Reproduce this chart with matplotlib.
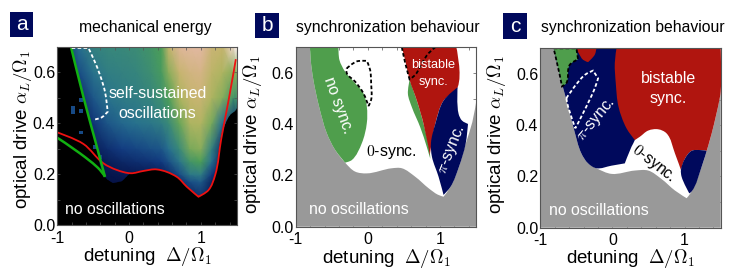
import matplotlib
matplotlib.use("Agg")
import matplotlib.pyplot as plt
import numpy as np
from matplotlib.colors import LinearSegmentedColormap
from matplotlib.patches import PathPatch, Rectangle
from matplotlib.path import Path

plt.rcParams['font.family'] = ['Liberation Sans', 'DejaVu Sans']
plt.rcParams['mathtext.fontset'] = 'cm'

W, H = 733, 278
NAVY = '#00095c'; RED = '#b0150f'; GREEN = '#4f9e4c'; GRAY = '#999999'

# ---------- panel a data
heat_x = [-0.9, -0.7, -0.5, -0.3, -0.1, 0.1, 0.3, 0.45, 0.55, 0.7, 0.85, 1.0, 1.15, 1.3, 1.45, 1.5]
heat_y = [0.10, 0.17, 0.20, 0.25, 0.30, 0.40, 0.50, 0.60, 0.70]
heat_levels = [
    [0.00, 0.00, 0.00, 0.00, 0.00, 0.00, 0.00, 0.00, 0.00, 0.02, 0.05, 0.10, 0.05, 0.00, 0.00, 0.00],
    [0.00, 0.00, 0.02, 0.02, 0.02, 0.02, 0.02, 0.02, 0.04, 0.10, 0.20, 0.24, 0.08, 0.00, 0.00, 0.00],
    [0.00, 0.00, 0.03, 0.03, 0.04, 0.05, 0.05, 0.06, 0.10, 0.20, 0.35, 0.38, 0.15, 0.00, 0.00, 0.00],
    [0.00, 0.02, 0.03, 0.06, 0.09, 0.11, 0.13, 0.15, 0.21, 0.33, 0.50, 0.55, 0.30, 0.05, 0.00, 0.00],
    [0.00, 0.03, 0.06, 0.11, 0.16, 0.18, 0.21, 0.23, 0.30, 0.45, 0.60, 0.62, 0.40, 0.10, 0.00, 0.00],
    [0.03, 0.05, 0.13, 0.23, 0.28, 0.31, 0.34, 0.38, 0.45, 0.58, 0.68, 0.69, 0.60, 0.30, 0.15, 0.10],
    [0.05, 0.10, 0.23, 0.32, 0.36, 0.38, 0.42, 0.48, 0.55, 0.67, 0.75, 0.77, 0.68, 0.62, 0.50, 0.48],
    [0.08, 0.20, 0.32, 0.38, 0.40, 0.42, 0.47, 0.53, 0.62, 0.76, 0.81, 0.83, 0.73, 0.68, 0.62, 0.62],
    [0.10, 0.30, 0.40, 0.43, 0.44, 0.46, 0.50, 0.55, 0.74, 0.88, 0.90, 0.91, 0.78, 0.75, 0.96, 1.00],
]
heat_region = [(-0.81, 0.70), (-0.637, 0.504), (-0.474, 0.334), (-0.335, 0.19), (-0.22, 0.165),
               (-0.1, 0.175), (0.023, 0.204), (0.2, 0.213), (0.386, 0.219), (0.665, 0.19),
               (0.805, 0.151), (0.967, 0.112), (1.107, 0.138), (1.2, 0.197), (1.293, 0.36),
               (1.41, 0.432), (1.50, 0.458), (1.50, 0.70)]
stray_x = [-0.67, -0.78, -0.78, -0.67, -0.67, -0.475, -0.40]
stray_y = [0.485, 0.452, 0.438, 0.44, 0.356, 0.30, 0.26]
red_a = [(-1, 0.364), (-0.637, 0.319), (-0.358, 0.243), (-0.172, 0.217), (0.023, 0.204), (0.2, 0.213),
         (0.386, 0.219), (0.665, 0.19), (0.805, 0.151), (0.967, 0.112), (1.107, 0.138), (1.2, 0.197),
         (1.284, 0.338), (1.386, 0.488), (1.488, 0.651)]
green_upper = [(-0.81, 0.70), (-0.637, 0.504), (-0.474, 0.334), (-0.335, 0.19)]
green_lower = [(-1, 0.343), (-0.684, 0.282), (-0.405, 0.217), (-0.335, 0.19)]
dash_a = [(-0.80, 0.695), (-0.567, 0.695), (-0.488, 0.648), (-0.405, 0.589), (-0.335, 0.523), (-0.298, 0.445),
          (-0.381, 0.423), (-0.474, 0.415)]

# ---------- panel b data
edge_b = [(-1, 0.70), (-0.80, 0.70), (-0.792, 0.651), (-0.755, 0.573), (-0.676, 0.469), (-0.569, 0.365),
          (-0.454, 0.30), (-0.315, 0.25), (-0.176, 0.215), (-0.014, 0.208), (0.333, 0.228), (0.472, 0.228),
          (0.657, 0.195), (0.843, 0.15), (0.97, 0.125), (1.05, 0.117), (1.148, 0.156), (1.264, 0.234),
          (1.356, 0.323), (1.449, 0.408), (1.505, 0.492), (1.5, 0.0), (-1, 0.0)]
green_b1 = [(-0.80, 0.70), (-0.407, 0.70), (-0.394, 0.651), (-0.315, 0.605), (-0.176, 0.56), (-0.06, 0.52),
            (-0.014, 0.469), (-0.014, 0.404), (-0.083, 0.326), (-0.222, 0.26), (-0.315, 0.25), (-0.454, 0.30),
            (-0.569, 0.365), (-0.676, 0.469), (-0.755, 0.573), (-0.792, 0.651)]
green_b2 = [(0.579, 0.573), (0.68, 0.492), (0.773, 0.401), (0.856, 0.30), (0.866, 0.265), (0.819, 0.31),
            (0.727, 0.388), (0.611, 0.466), (0.556, 0.518)]
red_b = [(0.472, 0.70), (1.227, 0.70), (1.245, 0.544), (1.05, 0.492), (0.935, 0.401), (0.86, 0.28),
         (0.773, 0.401), (0.68, 0.492), (0.579, 0.573), (0.519, 0.648)]
navy_b = [(1.245, 0.544), (1.259, 0.44), (1.306, 0.414), (1.389, 0.401), (1.356, 0.323), (1.264, 0.234),
          (1.148, 0.156), (1.05, 0.124), (0.981, 0.195), (0.889, 0.273), (0.875, 0.326), (0.935, 0.401),
          (1.05, 0.492)]
dash_b1 = [(-0.292, 0.618), (-0.153, 0.645), (-0.014, 0.647), (0.032, 0.612), (0.046, 0.56), (0.046, 0.495),
           (0.009, 0.471), (-0.06, 0.52), (-0.176, 0.566), (-0.292, 0.599), (-0.292, 0.618)]
dash_b2 = [(0.472, 0.70), (0.519, 0.638), (0.579, 0.575), (0.657, 0.592), (0.75, 0.638), (0.843, 0.677), (0.935, 0.70)]

# ---------- panel c data
edge_c_upper = [(-0.815, 0.70), (-0.731, 0.596), (-0.639, 0.499), (-0.532, 0.382), (-0.431, 0.29),
                (-0.338, 0.251), (-0.222, 0.232)]
edge_c_lower = [(-0.014, 0.21), (0.31, 0.223), (0.495, 0.223), (0.68, 0.19), (0.866, 0.145), (1.028, 0.115),
                (1.097, 0.141), (1.236, 0.238), (1.375, 0.368), (1.491, 0.512), (1.5, 0.53)]
navy_c_tail = [(-0.014, 0.242), (0.171, 0.251), (0.264, 0.316), (0.31, 0.342), (0.45, 0.50), (0.45, 0.70)]
red_c = [(0.056, 0.70), (1.5, 0.70), (1.5, 0.53), (1.491, 0.512), (1.375, 0.368), (1.306, 0.30), (1.213, 0.303), (1.097, 0.30),
         (1.005, 0.27), (0.949, 0.225), (0.866, 0.29), (0.75, 0.368), (0.634, 0.384), (0.495, 0.379), (0.38, 0.355),
         (0.31, 0.342), (0.194, 0.388), (0.083, 0.473), (0.046, 0.564), (0.032, 0.642)]
navy_c2 = [(0.949, 0.225), (1.005, 0.27), (1.097, 0.30), (1.213, 0.303), (1.306, 0.30), (1.236, 0.238),
           (1.097, 0.141), (1.065, 0.134), (0.958, 0.199)]
red_c2 = [(-0.50, 0.70), (-0.222, 0.70), (-0.245, 0.675), (-0.338, 0.646), (-0.407, 0.655), (-0.468, 0.681)]
green_c = [(-0.815, 0.70), (-0.50, 0.70), (-0.477, 0.657), (-0.593, 0.635), (-0.639, 0.564), (-0.699, 0.551),
           (-0.731, 0.596)]
dash_c_white = [(-0.639, 0.505), (-0.384, 0.596), (-0.269, 0.613), (-0.199, 0.583), (-0.245, 0.544),
                (-0.384, 0.46), (-0.514, 0.388), (-0.616, 0.473), (-0.639, 0.505)]

tick_x = [-1, 0, 1]
tick_x_labels = ['-1', '0', '1']
tick_y = [0.0, 0.2, 0.4, 0.6]
minor_x = [-0.8, -0.6, -0.4, -0.2, 0.2, 0.4, 0.6, 0.8, 1.2, 1.4]
minor_y = [0.1, 0.3, 0.5, 0.7]
xlab = r'detuning  $\Delta/\Omega_1$'
ylab = r'optical drive $\alpha_L/\Omega_1$'

heat_cmap = LinearSegmentedColormap.from_list('heat', [
    (0.00, '#040d40'), (0.15, '#123a80'), (0.30, '#27708f'), (0.45, '#3a8a78'), (0.55, '#4c9e58'),
    (0.65, '#a4b45c'), (0.75, '#c4b46c'), (0.85, '#d9b48c'), (0.92, '#e4b9a6'), (1.00, '#fbf3f3')])


def smooth_path(pts, closed=True, corner_deg=50):
    """Bezier path through the read points; sharp turns stay corners."""
    p = np.array(pts, float)
    n = len(p)
    q = p * [1, 3.57]              # roughly isotropic pixel space
    tang = np.zeros_like(q)
    for i in range(n):
        if not closed and i in (0, n - 1):
            continue
        a, b = q[(i - 1) % n], q[(i + 1) % n]
        u, v = q[i] - a, b - q[i]
        cosang = np.dot(u, v) / (np.linalg.norm(u) * np.linalg.norm(v) + 1e-9)
        if np.degrees(np.arccos(np.clip(cosang, -1, 1))) < corner_deg:
            t = u / (np.linalg.norm(u) + 1e-9) + v / (np.linalg.norm(v) + 1e-9)
            tang[i] = t / (np.linalg.norm(t) + 1e-9)
    verts = [q[0]]
    codes = [Path.MOVETO]
    for i in range(n if closed else n - 1):
        j = (i + 1) % n
        d = np.linalg.norm(q[j] - q[i]) / 3
        verts += [q[i] + tang[i] * d, q[j] - tang[j] * d, q[j]]
        codes += [Path.CURVE4] * 3
    return Path(np.array(verts) / [1, 3.57], codes)


fig = plt.figure(figsize=(W / 100, H / 100), dpi=100)


def make_axes(l, r, t, b, ylx, yly, xlx, xly):
    ax = fig.add_axes([l / W, 1 - b / H, (r - l) / W, (b - t) / H])
    ax.set_xlim(-1, 1.5)
    ax.set_ylim(0, 0.7)
    ax.set_xticks(tick_x, tick_x_labels)
    ax.set_yticks(tick_y, [f'{v:.1f}' for v in tick_y])
    ax.set_xticks(minor_x, minor=True)
    ax.set_yticks(minor_y, minor=True)
    ax.tick_params(which='both', direction='in', top=True, right=True, length=2, width=0.5, color='#555555')
    ax.tick_params(axis='x', labelsize=11.5, pad=3.8)
    ax.tick_params(axis='y', labelsize=11.5, pad=1.5)
    for s in ax.spines.values():
        s.set_color('#555555'); s.set_linewidth(0.8)
        s.set_zorder(8)
    ax.set_xlabel(xlab, fontsize=13.5, va='center')
    ax.xaxis.set_label_coords((xlx - l) / (r - l), (b - xly) / (b - t))
    ax.set_ylabel(ylab, fontsize=13.5, va='center')
    ax.yaxis.set_label_coords((ylx - l) / (r - l), (b - yly) / (b - t))
    return ax


def poly(ax, pts, color, z=2):
    ax.add_patch(PathPatch(smooth_path(pts), facecolor=color, edgecolor='none', zorder=z))


def curve(ax, pts, color, lw, closed=False, ls='-', z=5):
    ax.add_patch(PathPatch(smooth_path(pts, closed=closed), facecolor='none', edgecolor=color, lw=lw, ls=ls,
                           zorder=z))


def dashed(ax, pts, color, lw=1.3):
    curve(ax, pts, color, lw, ls=(0, (2, 1.3)))


def title(x, s):
    fig.text(x / W, 1 - 27 / H, s, fontsize=11.3, ha='center', va='center')


def badge(x0, y0, x1, y1, s):
    fig.add_artist(Rectangle((x0 / W, 1 - y1 / H), (x1 - x0) / W, (y1 - y0) / H, transform=fig.transFigure,
                             facecolor=NAVY, edgecolor='none'))
    fig.text((x0 + x1) / 2 / W, 1 - (y0 + y1) / 2 / H, s, color='white', fontsize=15, ha='center', va='center')


def label(ax, x, y, s, color='white', size=11.4, rot=0):
    ax.text(x, y, s, color=color, fontsize=size, ha='center', va='center', rotation=rot,
            rotation_mode='anchor', zorder=6)


# ----- a
ax = make_axes(57.3, 236.7, 46.7, 225.3, 22, 130, 148, 257)
ax.set_facecolor('black')
mesh = ax.pcolormesh(heat_x, heat_y, heat_levels, cmap=heat_cmap, vmin=0, vmax=1, shading='gouraud', zorder=1)
clip = PathPatch(smooth_path(heat_region), transform=ax.transData, facecolor='none', edgecolor='none')
ax.add_patch(clip)
mesh.set_clip_path(clip)
ax.bar(stray_x, 0.014, width=0.05, bottom=stray_y, color='#174a86', zorder=2)
curve(ax, red_a, '#ee1111', 1.3, z=4)
curve(ax, green_upper, '#12b012', 1.8, z=4)
curve(ax, green_lower, '#12b012', 1.8, z=4)
dashed(ax, dash_a, 'white')
label(ax, 0.395, 0.517, 'self-sustained')
label(ax, 0.395, 0.44, 'oscillations')
label(ax, -0.195, 0.063, 'no oscillations')
title(145, 'mechanical energy')
badge(10, 12, 33, 37, 'a')

# ----- b
ax = make_axes(295.7, 476, 47.3, 226.7, 253, 135, 386.7, 259)
poly(ax, edge_b, GRAY)
poly(ax, green_b1, GREEN)
poly(ax, green_b2, GREEN)
poly(ax, red_b, RED)
poly(ax, navy_b, NAVY)
dashed(ax, dash_b1, 'black')
dashed(ax, dash_b2, 'black')
label(ax, -0.407, 0.475, 'no sync.', rot=-70)
label(ax, 0.333, 0.293, r'$0$-sync.', color='black')
label(ax, 0.912, 0.632, 'bistable', size=9.2)
label(ax, 0.912, 0.566, 'sync.', size=9.2)
label(ax, 1.176, 0.30, r'$\pi$-sync.', rot=68)
label(ax, -0.13, 0.068, 'no oscillations')
title(388, 'synchronization behaviour')
badge(255, 13, 279, 38, 'b')

# ----- c
ax = make_axes(540.3, 720.7, 48.3, 227.7, 497, 135, 631, 259)
poly(ax, [(-1, 0.70)] + edge_c_upper + edge_c_lower + [(1.5, 0), (-1, 0)], GRAY)
poly(ax, edge_c_upper + navy_c_tail, NAVY)
poly(ax, red_c, RED)
poly(ax, navy_c2, NAVY, z=3)
poly(ax, red_c2, RED)
poly(ax, green_c, GREEN)
dashed(ax, green_c + [green_c[0]], 'black')
dashed(ax, dash_c_white, 'white')
label(ax, 0.773, 0.581, 'bistable', size=11.5)
label(ax, 0.773, 0.505, 'sync.', size=11.5)
label(ax, -0.222, 0.42, r'$\pi$-sync.', rot=50)
label(ax, 0.565, 0.251, r'$0$-sync.', color='black', rot=-38)
label(ax, -0.185, 0.069, 'no oscillations')
title(633, 'synchronization behaviour')
badge(503, 13, 527, 39, 'c')

fig.savefig('out.png', dpi=100)
